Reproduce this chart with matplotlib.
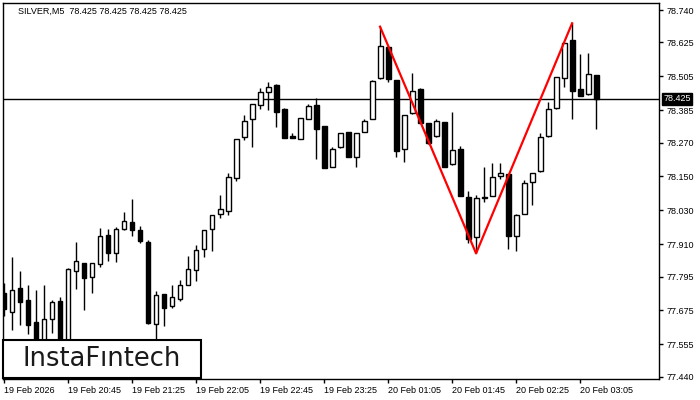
"""
SILVER M5 candlestick chart with double top pattern overlay
"""

import numpy as np
import matplotlib.pyplot as plt
from matplotlib.patches import Rectangle

# OHLC values, one per 5-minute bar
opens = [77.736, 77.670, 77.754, 77.712, 77.634, 77.542, 77.645, 77.708, 77.552, 77.816,
         77.842, 77.794, 77.838, 77.941, 77.877, 77.965, 77.987, 77.959, 77.916, 77.626,
         77.732, 77.692, 77.716, 77.766, 77.817, 77.892, 77.962, 78.016, 78.026, 78.143,
         78.289, 78.353, 78.402, 78.448, 78.474, 78.388, 78.292, 78.283, 78.353, 78.402,
         78.329, 78.184, 78.253, 78.307, 78.218, 78.307, 78.353, 78.498, 78.608, 78.492,
         78.246, 78.374, 78.460, 78.338, 78.292, 78.343, 78.193, 78.247, 78.076, 77.936,
         78.075, 78.082, 78.153, 78.159, 77.938, 78.016, 78.131, 78.168, 78.292, 78.391,
         78.498, 78.633, 78.459, 78.441, 78.509]
highs = [77.771, 77.864, 77.815, 77.765, 77.747, 77.765, 77.712, 77.721, 77.825, 77.917,
         77.843, 77.843, 77.966, 77.962, 77.972, 78.024, 78.069, 77.975, 77.925, 77.745,
         77.733, 77.764, 77.783, 77.868, 77.907, 77.960, 78.013, 78.084, 78.161, 78.283,
         78.367, 78.407, 78.462, 78.484, 78.478, 78.393, 78.303, 78.357, 78.407, 78.427,
         78.330, 78.253, 78.304, 78.308, 78.304, 78.353, 78.491, 78.681, 78.609, 78.493,
         78.368, 78.517, 78.462, 78.339, 78.353, 78.344, 78.378, 78.258, 78.098, 78.084,
         78.182, 78.196, 78.196, 78.160, 78.016, 78.136, 78.162, 78.303, 78.413, 78.502,
         78.623, 78.693, 78.584, 78.589, 78.510]
lows = [77.655, 77.605, 77.623, 77.591, 77.517, 77.513, 77.596, 77.506, 77.534, 77.752,
        77.676, 77.737, 77.829, 77.851, 77.848, 77.960, 77.940, 77.915, 77.628, 77.563,
        77.621, 77.684, 77.709, 77.764, 77.780, 77.865, 77.887, 78.001, 78.012, 78.133,
        78.279, 78.253, 78.390, 78.385, 78.326, 78.287, 78.286, 78.282, 78.352, 78.211,
        78.180, 78.183, 78.252, 78.219, 78.184, 78.306, 78.352, 78.497, 78.486, 78.220,
        78.202, 78.373, 78.339, 78.266, 78.291, 78.183, 78.192, 78.081, 77.915, 77.877,
        78.060, 78.081, 78.141, 77.892, 77.887, 78.015, 78.048, 78.167, 78.291, 78.390,
        78.466, 78.353, 78.435, 78.440, 78.317]
closes = [77.679, 77.747, 77.706, 77.623, 77.552, 77.644, 77.705, 77.534, 77.822, 77.849,
          77.791, 77.842, 77.938, 77.879, 77.962, 77.991, 77.960, 77.922, 77.631, 77.728,
          77.684, 77.721, 77.764, 77.821, 77.888, 77.959, 78.012, 78.033, 78.147, 78.282,
          78.345, 78.406, 78.450, 78.466, 78.379, 78.287, 78.287, 78.356, 78.399, 78.319,
          78.181, 78.246, 78.303, 78.220, 78.303, 78.345, 78.490, 78.611, 78.496, 78.241,
          78.367, 78.452, 78.340, 78.267, 78.345, 78.184, 78.243, 78.082, 77.929, 78.072,
          78.077, 78.147, 78.161, 77.940, 78.012, 78.126, 78.161, 78.290, 78.388, 78.501,
          78.622, 78.452, 78.436, 78.512, 78.425]

x_tick_bars = [0, 8, 16, 24, 32, 40, 48, 56, 64, 72]
x_tick_labels = ["19 Feb 2026", "19 Feb 20:45", "19 Feb 21:25", "19 Feb 22:05", "19 Feb 22:45",
                 "19 Feb 23:25", "20 Feb 01:05", "20 Feb 01:45", "20 Feb 02:25", "20 Feb 03:05"]
y_ticks = [78.740, 78.625, 78.505, 78.385, 78.270, 78.150, 78.030,
           77.910, 77.795, 77.675, 77.555, 77.440]

last_price = 78.425
symbol = "SILVER,M5"
# double top: first top, neck low, second top (bar indices)
pattern_bars = [47, 59, 71]

FONT = "Liberation Sans"


def main():
    o = np.array(opens)
    h = np.array(highs)
    l = np.array(lows)
    c = np.array(closes)
    x = np.arange(len(o))

    fig = plt.figure(figsize=(7, 4), dpi=100)
    ax = fig.add_axes([2.7 / 700, 20.7 / 400, 656.6 / 700, 376.6 / 400])

    # wicks, then bodies on top
    ax.vlines(x, l, h, color="black", linewidth=1, zorder=2)
    up = c >= o
    body_lo = np.minimum(o, c)
    body_h = np.maximum(np.abs(c - o), 0.0015)
    ax.bar(x, body_h, bottom=body_lo, width=0.62,
           color=np.where(up, "white", "black"), edgecolor="black",
           linewidth=1, zorder=3)

    ax.axhline(last_price, color="black", linewidth=1, zorder=1)

    # pattern lines
    py = [h[pattern_bars[0]], l[pattern_bars[1]], h[pattern_bars[2]]]
    ax.plot(pattern_bars, py, color="red", linewidth=1.6, zorder=4)

    ax.set_xlim(-0.16, 81.9)
    ax.set_ylim(77.4305, 78.766)

    ax.set_xticks(x_tick_bars)
    ax.set_xticklabels(x_tick_labels, fontsize=6.5, family=FONT, ha="left")
    ax.yaxis.tick_right()
    ax.set_yticks(y_ticks)
    ax.set_yticklabels([f"{v:.3f}" for v in y_ticks], fontsize=6.5, family=FONT)
    ax.tick_params(axis="both", direction="out", length=3, width=1, color="black")
    ax.tick_params(axis="x", pad=2)
    ax.tick_params(axis="y", pad=2)
    for s in ax.spines.values():
        s.set_linewidth(1)
        s.set_color("black")

    # current price tag
    ax.annotate(f"{last_price:.3f}", xy=(1, last_price), xycoords=ax.get_yaxis_transform(),
                xytext=(3, 0), textcoords="offset points", ha="left", va="center",
                fontsize=6.5, family=FONT, color="white", zorder=6,
                bbox=dict(boxstyle="square,pad=0.15", fc="black", ec="black"))

    fig.text(18 / 700, 1 - 11 / 400, f"{symbol}  " + " ".join([f"{last_price:.3f}"] * 4),
             fontsize=6.5, family=FONT, va="center", ha="left")

    # logo box
    fig.patches.append(Rectangle((3 / 700, 22 / 400), 198 / 700, 38 / 400,
                                 transform=fig.transFigure, fc="white", ec="black",
                                 linewidth=1.5, zorder=5))
    fig.text(102 / 700, 41 / 400, "InstaF\u0131ntech", fontsize=18.5, color="#1a1a1a",
             ha="center", va="center", zorder=6)

    fig.savefig("out.png", dpi=100)
    plt.close(fig)


if __name__ == "__main__":
    main()
